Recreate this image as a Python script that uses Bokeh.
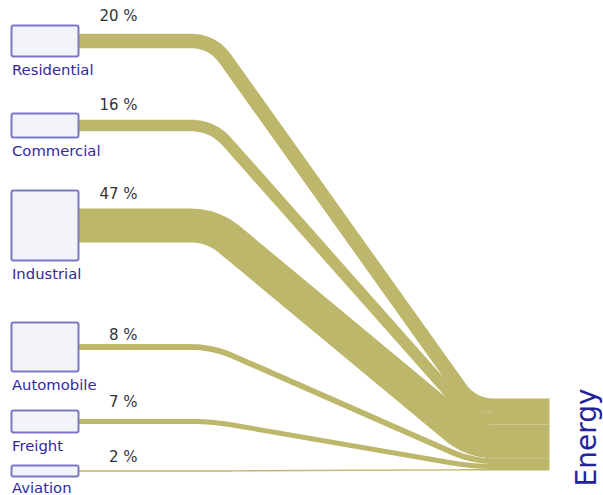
import numpy as np
from bokeh.plotting import figure
from bokeh.models import Range1d, ColumnDataSource
from bokeh.core.properties import value
from bokeh.embed import file_html
from bokeh.resources import INLINE

# ---------------- data ----------------
sources = ["Residential", "Commercial", "Industrial", "Automobile", "Freight", "Aviation"]
target = "Energy"
shares = [20, 16, 47, 8, 7, 2]          # percent of energy
share_labels = [f"{v} %" for v in shares]

# ---------------- layout (pixel units) ----------------
W, H = 603, 495
X0, Y0 = 0, 0
node_x0, node_x1 = 11, 78
node_top = [25, 113, 190, 322, 410, 465]
node_h = [31, 24, 70, 49, 22, 11]
px_per_pct = 0.72
bend_x0, bend_x1 = 212, 472
end_x = 549
target_top = 398
corner_r = 22
pct_label_x = 137
pct_label_gap = [17.5, 15, 15, 9.5, 16.5, 13]
node_label_dy = [12.5, 12.5, 12.5, 12.5, 12.5, 10.5]

BAND = "#BDB76B"
NODE_FILL = "#F3F3FA"
NODE_LINE = "#7C78C8"
LABEL = "#33289C"
FONT = "DejaVu Sans"


def rounded_path(pts, r, n=14):
    pts = [np.array(p, dtype=float) for p in pts]
    out = [pts[0]]
    for i in range(1, len(pts) - 1):
        A, P, B = pts[i - 1], pts[i], pts[i + 1]
        la, lb = np.linalg.norm(P - A), np.linalg.norm(B - P)
        din, dout = (P - A) / la, (B - P) / lb
        rr = min(r, la / 2, lb / 2)
        p0, p1 = P - rr * din, P + rr * dout
        for t in np.linspace(0, 1, n):
            out.append((1 - t) ** 2 * p0 + 2 * (1 - t) * t * P + t ** 2 * p1)
    out.append(pts[-1])
    arr = np.array(out)
    return list(arr[:, 0]), list(arr[:, 1])


thick = [v * px_per_pct for v in shares]
src_center = [t + h / 2 for t, h in zip(node_top, node_h)]
cum = np.concatenate([[0], np.cumsum(thick)])
tgt_center = [target_top + cum[i] + thick[i] / 2 for i in range(len(shares))]

xs, ys = [], []
for sc, tc in zip(src_center, tgt_center):
    x, y = rounded_path([(node_x1, sc), (bend_x0, sc), (bend_x1, tc), (end_x, tc)], corner_r)
    xs.append(x)
    ys.append(y)

p = figure(width=W, height=H, x_range=Range1d(X0, X0 + W), y_range=Range1d(Y0 + H, Y0),
           output_backend="svg", toolbar_location=None, x_axis_type=None, y_axis_type=None,
           min_border=0)
p.grid.visible = False
p.outline_line_color = None
p.background_fill_color = "white"
p.border_fill_color = "white"

band_src = ColumnDataSource(dict(xs=xs, ys=ys, w=thick))
p.multi_line(xs="xs", ys="ys", line_width="w", line_color=BAND, source=band_src,
             line_cap="butt", line_join="round")

# source nodes
node_src = ColumnDataSource(dict(
    left=[node_x0] * len(sources), right=[node_x1] * len(sources),
    top=node_top, bottom=[t + h for t, h in zip(node_top, node_h)]))
p.quad(left="left", right="right", top="top", bottom="bottom", source=node_src,
       fill_color=NODE_FILL, line_color=NODE_LINE, line_width=2, border_radius=2)

# node labels
p.text(x=[node_x0 + 0.5] * len(sources),
       y=[t + h + d for t, h, d in zip(node_top, node_h, node_label_dy)],
       text=sources, text_font=value(FONT), text_font_size="14.8px",
       text_color=LABEL, text_align="left", text_baseline="alphabetic")

# percentage labels
p.text(x=[pct_label_x] * len(shares),
       y=[c - t / 2 - g for c, t, g in zip(src_center, thick, pct_label_gap)],
       text=share_labels, text_font=value(FONT), text_font_size="15px",
       text_color="#333333", text_align="right", text_baseline="alphabetic")

# target label
p.text(x=[586], y=[target_top + cum[-1] / 2 + 3], text=[target], angle=np.pi / 2,
       text_font=value(FONT), text_font_size="28px", text_color="#22229A",
       text_align="center", text_baseline="alphabetic")

open("out.html", "w").write(file_html(p, INLINE))
